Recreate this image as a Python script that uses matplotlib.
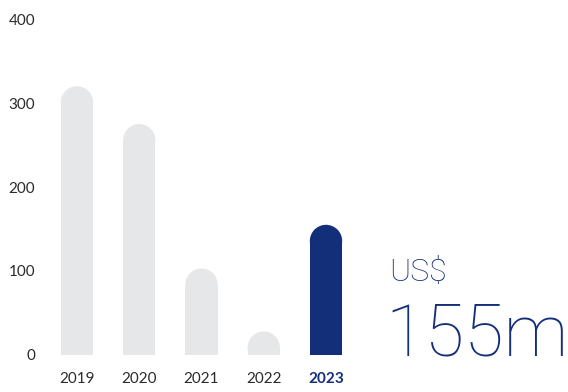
import matplotlib
matplotlib.use("Agg")
import matplotlib.pyplot as plt
from matplotlib.patches import Rectangle, Ellipse

years = ["2019", "2020", "2021", "2022", "2023"]
values = [320, 275, 103, 28, 155]
highlight = "2023"
headline_unit = "US$"
headline_value = "155m"

GREY = "#e6e7e8"
NAVY = "#142f7a"
TEXT = "#2b2b2b"

plt.rcParams["font.family"] = ["Lato", "DejaVu Sans"]

W, H = 568, 392
fig = plt.figure(figsize=(W / 100, H / 100), dpi=100)
# axes placed in pixels: left 45, bottom 37, top 373
ax = fig.add_axes([45 / W, 37 / H, (W - 45) / W, 336 / H])

step_px = 62.25
x0 = -32 / step_px
x1 = (W - 45 - 32) / step_px
ax.set_xlim(x0, x1)
ax.set_ylim(0, 400)

bar_w = 0.52
px_per_x = step_px
px_per_y = 336 / 400
r_px = bar_w * px_per_x / 2
r_y = r_px / px_per_y

for i, (yr, v) in enumerate(zip(years, values)):
    c = NAVY if yr == highlight else GREY
    ax.add_patch(Rectangle((i - bar_w / 2, 0), bar_w, v - r_y, color=c, lw=0))
    ax.add_patch(Ellipse((i, v - r_y), bar_w, 2 * r_y, color=c, lw=0))

ax.set_xticks(range(len(years)))
ax.set_xticklabels(years)
ax.set_yticks([0, 100, 200, 300, 400])
ax.tick_params(axis="both", length=0, labelsize=11, colors=TEXT)
ax.tick_params(axis="x", pad=12)
ax.tick_params(axis="y", pad=7)
for lab in ax.get_xticklabels():
    if lab.get_text() == highlight:
        lab.set_color(NAVY)
        lab.set_fontweight("bold")
for s in ax.spines.values():
    s.set_visible(False)

fig.text(389 / W, 1 - 281 / H, headline_unit, color=NAVY, fontsize=23,
         family=["Roboto", "DejaVu Sans"], fontweight="light",
         ha="left", va="baseline")
fig.text(385 / W, 1 - 355 / H, headline_value, color=NAVY, fontsize=52,
         family=["Roboto", "DejaVu Sans"], fontweight="light",
         ha="left", va="baseline")

fig.savefig("out.png", dpi=100)
